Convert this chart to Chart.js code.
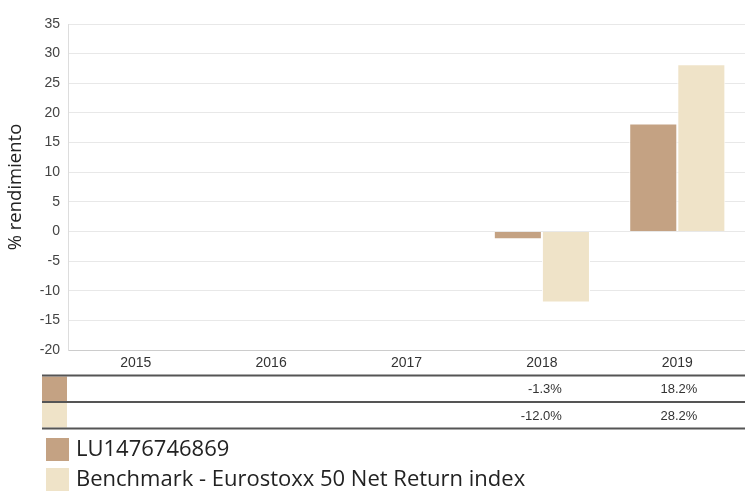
<!DOCTYPE html>
<html>
<head>
<meta charset="utf-8">
<script src="https://cdn.jsdelivr.net/npm/chart.js@4.4.1/dist/chart.umd.min.js"></script>
<style>
  html, body { margin: 0; padding: 0; background: #fff; }
  #wrap { width: 745px; height: 492px; }
</style>
</head>
<body>
<div id="wrap"><canvas id="rendimiento"></canvas></div>
<script>
const years = ['2015', '2016', '2017', '2018', '2019'];
const fondo = [null, null, null, -1.3, 18.2];
const benchmark = [null, null, null, -12.0, 28.2];
const nombres = ['LU1476746869', 'Benchmark - Eurostoxx 50 Net Return index'];
const colores = ['#c4a283', '#efe3c8'];

const ctx = document.getElementById('rendimiento');

// tabla de valores y leyenda debajo del eje x
const tablaYLeyenda = {
    id: 'tablaYLeyenda',
    afterDraw(chart) {
        const c = chart.ctx;
        const x = chart.scales.x;
        const series = [fondo, benchmark];
        const top = 375.5;
        const rowH = 26.5;
        c.save();
        // filas
        series.forEach((vals, r) => {
            const y0 = top + r * rowH;
            c.fillStyle = colores[r];
            c.fillRect(42, y0 + 1, 25, rowH - 2);
            c.fillStyle = '#333';
            c.font = '13px "Liberation Sans", Arial, sans-serif';
            c.textAlign = 'right';
            c.textBaseline = 'middle';
            vals.forEach((v, i) => {
                if (v === null) return;
                c.fillText(v.toFixed(1) + '%', x.getPixelForValue(i) + 20, y0 + rowH / 2 + 1);
            });
        });
        c.strokeStyle = '#555';
        c.lineWidth = 2;
        for (let r = 0; r <= series.length; r++) {
            const y = top + r * rowH;
            c.beginPath();
            c.moveTo(42, y);
            c.lineTo(745, y);
            c.stroke();
        }
        // leyenda
        c.font = '22px "Open Sans", "Noto Sans", sans-serif';
        c.textAlign = 'left';
        c.textBaseline = 'middle';
        nombres.forEach((n, i) => {
            const y0 = 438 + i * 30;
            c.fillStyle = colores[i];
            c.fillRect(46, y0, 23, 23);
            c.fillStyle = '#222';
            c.fillText(n, 76, y0 + 12);
        });
        c.restore();
    }
};

new Chart(ctx, {
    type: 'bar',
    data: {
        labels: years,
        datasets: [{
                label: nombres[0],
                data: fondo,
                backgroundColor: colores[0],
                borderColor: '#ffffff',
                borderWidth: 1
            },
            {
                label: nombres[1],
                data: benchmark,
                backgroundColor: colores[1],
                borderColor: '#ffffff',
                borderWidth: 1
            },
        ]
    },
    options: {
        responsive: true,
        maintainAspectRatio: false,
        animation: false,
        layout: { padding: { top: 24, right: 0, left: 0, bottom: 0 } },
        plugins: {
            legend: { display: false },
            tooltip: { enabled: false }
        },
        datasets: {
            bar: { categoryPercentage: 0.71, barPercentage: 1.0 }
        },
        scales: {
            x: {
                grid: { display: false, drawTicks: false },
                border: { display: true, color: '#cccccc', width: 1 },
                ticks: {
                    color: '#333',
                    padding: 5,
                    font: { family: '"Liberation Sans", Arial, sans-serif', size: 14 }
                },
                afterFit(scale) { scale.height = 142; }
            },
            y: {
                min: -20,
                max: 35,
                ticks: {
                    stepSize: 5,
                    color: '#444',
                    padding: 8,
                    font: { family: '"Liberation Sans", Arial, sans-serif', size: 14 }
                },
                grid: { color: '#e8e8e8', drawTicks: false },
                border: { display: true, color: '#dddddd' },
                title: {
                    display: true,
                    text: '% rendimiento',
                    color: '#222',
                    padding: { top: 5, bottom: 0 },
                    font: { family: '"Open Sans", "Noto Sans", sans-serif', size: 18.5 }
                },
                afterFit(scale) { scale.width = 68; }
            }
        }
    },
    plugins: [tablaYLeyenda]
});
</script>
</body>
</html>
